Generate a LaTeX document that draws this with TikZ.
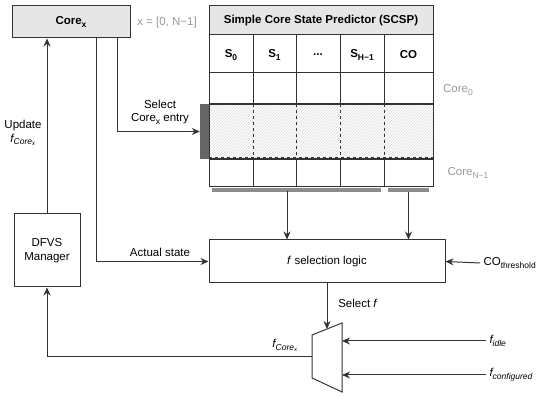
\documentclass[tikz,border=0pt]{standalone}
\usepackage{fontspec}
\setmainfont{Liberation Sans}
\usetikzlibrary{arrows.meta,patterns}

\definecolor{linegray}{HTML}{333333}
\definecolor{labelgray}{HTML}{999999}
\definecolor{headgray}{HTML}{E6E6E6}

% subscript a bit larger than \textsubscript
\newcommand{\lowsub}[1]{\raisebox{-0.45ex}{\fontsize{8.5}{9}\selectfont #1}}

\tikzset{
  every node/.style={font=\fontsize{11.5}{13.5}\selectfont, text=black},
  box/.style={draw=linegray, line width=1pt, inner sep=0pt},
  arrow/.style={draw=linegray, line width=1pt, -{Stealth[length=8pt,width=7pt]}},
  plain/.style={draw=linegray, line width=1pt},
  graylabel/.style={text=labelgray},
  bar/.style={fill=black!45, draw=none, inner sep=0pt},
}

\begin{document}
\begin{tikzpicture}[x=1pt, y=-1pt]
    \useasboundingbox (0,0) rectangle (550,398);

    % core and manager
    \node[box, fill=headgray, minimum width=118pt, minimum height=32pt] (core) at (71,22) {\textbf{Core\lowsub{x}}};
    \node[graylabel] (range) at (167,23) {x = [0, N−1]};
    \node[box, minimum width=66pt, minimum height=73pt, align=center] (dfvs) at (47,250.5) {DFVS\\Manager};

    % SCSP table
    \node[box, fill=headgray, minimum width=224pt, minimum height=29pt] (scsp) at (321,20.5) {\textbf{Simple Core State Predictor (SCSP)}};
    \node (s0) at (231,55) {\textbf{S\lowsub{0}}};
    \node (s1) at (274.5,55) {\textbf{S\lowsub{1}}};
    \node (sdots) at (318,55) {\textbf{...}};
    \node (sh) at (362,55) {\textbf{S\lowsub{H−1}}};
    \node (co) at (408.5,55) {\textbf{CO}};

    % selected row (hatched)
    \fill[pattern=north east lines, pattern color=black!15] (209,104) rectangle (433,159);
    \foreach \cx in {253,296,340,384}
      \draw[linegray, line width=0.8pt, dashed] (\cx,104) -- (\cx,159);
    \draw[linegray, line width=0.8pt, dashed] (209,157) -- (433,157);

    % grid lines
    \draw[plain] (209,35) rectangle (433,187);
    \foreach \cx in {253,296,340,384}
      \draw[plain] (\cx,35) -- (\cx,104) (\cx,159) -- (\cx,187);
    \draw[plain] (209,73) -- (433,73);
    \draw[linegray, line width=1.6pt] (209,104) -- (433,104);
    \draw[linegray, line width=1.6pt] (209,159) -- (433,159);

    \node[graylabel] (core0) at (458,90) {Core\lowsub{0}};
    \node[graylabel] (coren) at (468,173) {Core\lowsub{N−1}};

    % bars
    \node[bar, fill=black!60, minimum width=9pt, minimum height=55pt] (selbar) at (204.5,131.5) {};
    \node[bar, minimum width=169pt, minimum height=3.5pt] (sbar) at (296.5,190) {};
    \node[bar, minimum width=41pt, minimum height=3.5pt] (cobar) at (408.5,190) {};

    % selection logic
    \node[box, minimum width=236pt, minimum height=43pt] (sel) at (327,261.5) {\textit{f} selection logic};
    \node[anchor=west] (cothr) at (480,263) {CO\lowsub{threshold}};

    % multiplexer
    \coordinate (muxtl) at (312,335);
    \coordinate (muxbl) at (312,378);
    \coordinate (muxtr) at (342,323);
    \coordinate (muxbr) at (342,392);
    \draw[plain] (muxtl) -- (muxtr) -- (muxbr) -- (muxbl) -- cycle;
    \coordinate (muxsel) at (327,329);
    \coordinate (muxout) at (312,357);
    \coordinate (muxin1) at (342,341);
    \coordinate (muxin2) at (342,375);
    \node[anchor=west] (fidle) at (486,341) {\textit{f\lowsub{idle}}};
    \node[anchor=west] (fconf) at (486,375) {\textit{f\lowsub{configured}}};

    % connectors
    \coordinate (sa) at (287,191.5);
    \draw[arrow] (sa) -- (sa |- sel.north);
    \draw[arrow] (cobar.south) -- (cobar.south |- sel.north);
    \draw[arrow] ([xshift=-13pt]core.south east) |- (selbar.west);
    \draw[arrow] ([xshift=25pt]core.south) |- (sel.west);
    \draw[arrow] (dfvs.north) -- (dfvs.north |- core.south);
    \draw[arrow] (cothr.west) -- (sel.east);
    \draw[arrow] (sel.south) -- (muxsel);
    \draw[arrow] (muxout) -| (dfvs.south);
    \draw[arrow] (fidle.west) -- (muxin1);
    \draw[arrow] (fconf.west) -- (muxin2);

    % labels
    \node[align=center] (lselect) at (160,112) {Select\\Core\lowsub{x} entry};
    \node[align=center] (lupdate) at (23,133) {Update\\\textit{f\lowsub{Core\textsubscript{x}}}};
    \node (lactual) at (160,252) {Actual state};
    \node (lself) at (358,303) {Select \textit{f}};
    \node (lfcore) at (285,345) {\textit{f\lowsub{Core\textsubscript{x}}}};
\end{tikzpicture}
\end{document}
